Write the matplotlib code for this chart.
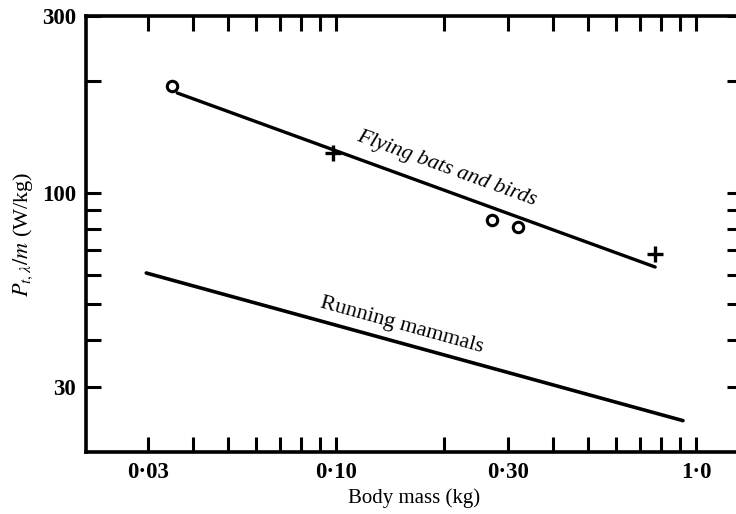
import matplotlib
matplotlib.use("Agg")
import matplotlib.pyplot as plt

plt.rcParams['font.family'] = ['Liberation Serif', 'DejaVu Serif']
plt.rcParams['mathtext.fontset'] = 'stix'

# data (body mass in kg, power per mass in W/kg)
fly_line_x = [0.0362, 0.77]
fly_line_y = [186, 63.1]
fly_circle_x = [0.035, 0.271, 0.321]
fly_circle_y = [194, 84.5, 81.0]
fly_plus_x = [0.098, 0.77]
fly_plus_y = [128, 68.5]
run_line_x = [0.0297, 0.92]
run_line_y = [60.8, 24.3]

x_major = [0.03, 0.10, 0.30, 1.0]
x_major_labels = ['0·03', '0·10', '0·30', '1·0']
x_minor = [0.04, 0.05, 0.06, 0.07, 0.08, 0.09, 0.2, 0.4, 0.5, 0.6, 0.7, 0.8, 0.9]
y_major = [30, 100, 300]
y_major_labels = ['30', '100', '300']
y_minor = [40, 50, 60, 70, 80, 90, 200]

fig = plt.figure(figsize=(7.36, 5.14), dpi=100)
ax = fig.add_axes([86 / 736, 1 - 452 / 514, (742 - 86) / 736, (452 - 16) / 514])
ax.set_xscale('log')
ax.set_yscale('log')
ax.set_xlim(0.0202, 1.342)
ax.set_ylim(20, 300)

ax.plot(fly_line_x, fly_line_y, color='black', lw=2.4, solid_capstyle='round')
ax.plot(run_line_x, run_line_y, color='black', lw=2.6, solid_capstyle='round')
ax.plot(fly_circle_x, fly_circle_y, 'o', mfc='white', mec='black', ms=7.5, mew=2.2)
ax.plot(fly_plus_x, fly_plus_y, '+', color='black', ms=11, mew=2.4)

ax.text(0.203, 116, 'Flying bats and birds', rotation=-20, style='italic',
        fontsize=16, ha='center', va='center', rotation_mode='anchor')
ax.text(0.152, 44.0, 'Running mammals', rotation=-15.5,
        fontsize=16, ha='center', va='center', rotation_mode='anchor')

ax.set_xticks(x_major)
ax.set_xticklabels(x_major_labels)
ax.set_xticks(x_minor, minor=True)
ax.set_xticklabels([], minor=True)
ax.set_yticks(y_major)
ax.set_yticklabels(y_major_labels)
ax.set_yticks(y_minor, minor=True)
ax.set_yticklabels([], minor=True)

ax.tick_params(which='both', direction='in', top=True, right=True,
               length=11, width=2.2, labelsize=16.5, pad=7)
for lab in ax.get_xticklabels() + ax.get_yticklabels():
    lab.set_fontweight('bold')

for side in ['left', 'bottom', 'top']:
    ax.spines[side].set_linewidth(2.6)
ax.spines['right'].set_visible(False)

ax.set_xlabel('Body mass (kg)', fontsize=15, labelpad=4)
ax.set_ylabel(r'$P_{t,\lambda}/m$ (W/kg)', fontsize=16, labelpad=5)

plt.savefig('out.png', dpi=100)
plt.close(fig)
